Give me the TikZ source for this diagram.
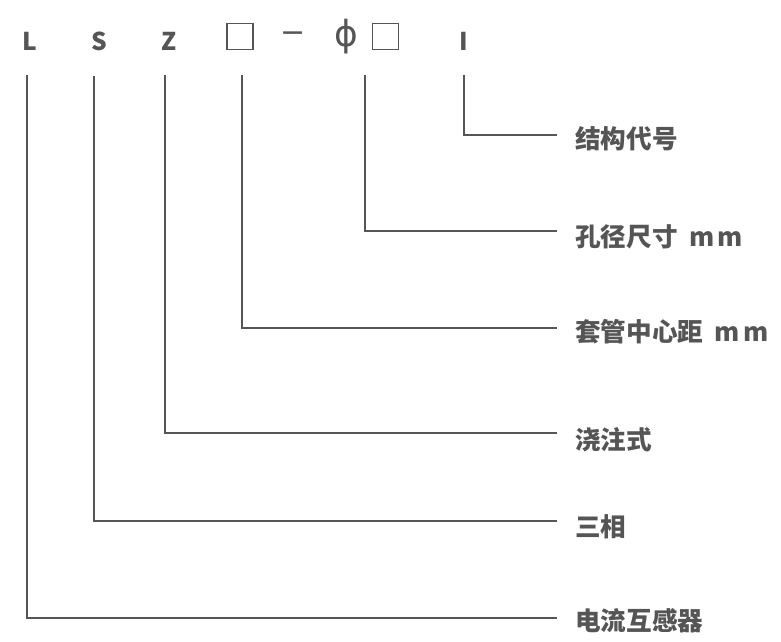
\documentclass[tikz,border=0pt]{standalone}
\usepackage{fontspec}
\setmainfont{Noto Sans CJK SC}
\newfontfamily\dvs{DejaVu Sans}
\definecolor{ink}{HTML}{555555}
\tikzset{
  letter/.style={font=\fontsize{24.5}{24.5}\selectfont\bfseries, text=ink, inner sep=0pt, anchor=base},
  sqbox/.style={draw=ink, line width=1.6pt, minimum size=26pt, inner sep=0pt},
  sym/.style={font=\dvs\fontsize{36}{36}\selectfont, text=ink, inner sep=0pt, anchor=base},
  dashsym/.style={font=\dvs\fontsize{30}{30}\selectfont, text=ink, inner sep=0pt, anchor=base},
  lbl/.style={font=\fontsize{25.6}{25.6}\selectfont\bfseries, text=ink, inner sep=0pt, anchor=west},
  conn/.style={draw=ink, line width=2pt, shorten >=18pt},
}
\begin{document}
\begin{tikzpicture}[x=1pt,y=-1pt]
\useasboundingbox[fill=white] (0,0) rectangle (781,641);
% top code
\node[letter] (L) at (29.5,50) {L};
\node[letter] (S) at (99.2,50) {S};
\node[letter] (Z) at (169.2,50) {Z};
\node[sqbox] (sqa) at (239.7,36.4) {};
\node[dashsym] (dash) at (293.3,42.2) {−};
\node[sym] (phi) at (346.8,46) {ϕ};
\node[sqbox] (sqb) at (385.5,36.4) {};
\node[letter] (I) at (463.5,50) {I};
% labels
\node[lbl] (l1) at (575,138.5) {结构代号};
\node[lbl] (l2) at (575,237) {孔径尺寸\ \ m\kern3pt m};
\node[lbl] (l3) at (575,332) {套管中心距\ \ m\kern3pt m};
\node[lbl] (l4) at (575,439.5) {浇注式};
\node[lbl] (l5) at (575,526.7) {三相};
\node[lbl] (l6) at (575,620.5) {电流互感器};
% connectors
\draw[conn] ([xshift=0.5pt,yshift=-25pt]I.south) |- ([yshift=3.5pt]l1.west);
\draw[conn] ([xshift=-20.5pt,yshift=-25pt]sqb.south) |- ([yshift=6pt]l2.west);
\draw[conn] ([xshift=2pt,yshift=-25pt]sqa.south) |- ([yshift=4pt]l3.west);
\draw[conn] ([xshift=-4.2pt,yshift=-25pt]Z.south) |- ([yshift=7pt]l4.west);
\draw[conn] ([xshift=-4.9pt,yshift=-25pt]S.south) |- ([yshift=6pt]l5.west);
\draw[conn] ([xshift=-2.8pt,yshift=-25pt]L.south) |- ([yshift=3pt]l6.west);
\end{tikzpicture}
\end{document}
